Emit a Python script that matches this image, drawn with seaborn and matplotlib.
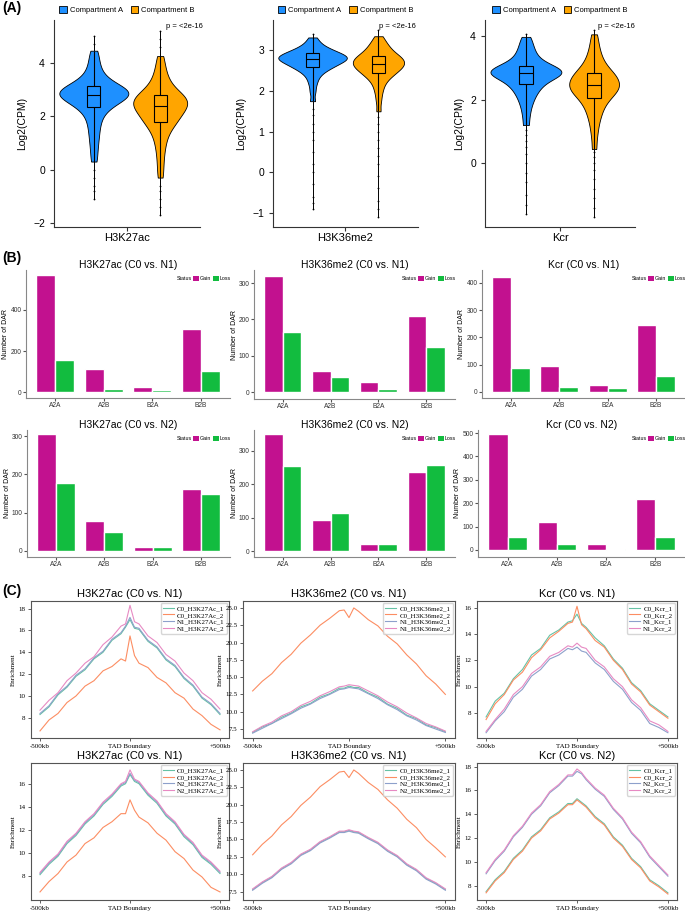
import numpy as np
import pandas as pd
import matplotlib
matplotlib.use("Agg")
import matplotlib.pyplot as plt
import seaborn as sns
from matplotlib.patches import Patch
from matplotlib.lines import Line2D

# ---------------- data: panel A (value samples read as quantiles + outlying points) ----------------
COMPARTMENTS = ["Compartment A", "Compartment B"]
MARKS_A = ["H3K27ac", "H3K36me2", "Kcr"]

H3K27AC_A = [0.3, 0.65, 0.95, 1.2, 1.42, 1.62, 1.8, 1.95, 2.08, 2.19, 2.28, 2.35,
             2.41, 2.46, 2.51, 2.56, 2.6, 2.64, 2.68, 2.71, 2.74, 2.77, 2.79, 2.81, 2.84, 2.87,
             2.9, 2.93, 2.96, 2.99, 3.02, 3.05, 3.08, 3.12, 3.16, 3.21, 3.27, 3.34, 3.42, 3.52,
             3.64, 3.8, 3.98, 4.2, 4.45]
H3K27AC_A_OUT = [-1.1, -0.8, -0.6, -0.3, 0.0, 4.7, 5.0]
H3K27AC_B = [-0.3, 0.1, 0.45, 0.75, 0.98, 1.18, 1.34, 1.47, 1.58, 1.68, 1.76,
             1.8, 1.87, 1.94, 2.0, 2.06, 2.12, 2.17, 2.22, 2.27, 2.31, 2.35,
             2.39, 2.43, 2.47, 2.51, 2.55, 2.59, 2.63, 2.67, 2.71, 2.75, 2.79,
             2.84, 2.9, 2.97, 3.05, 3.14, 3.25, 3.38, 3.53, 3.72, 3.95, 4.25]
H3K27AC_B_OUT = [-1.7, -1.4, -1.1, -0.8, -0.6, 4.6, 4.9, 5.2]
H3K36ME2_A = [1.75, 1.98, 2.15, 2.27, 2.36, 2.43, 2.48, 2.52, 2.55, 2.58,
              2.61, 2.63, 2.65, 2.67, 2.69, 2.71, 2.73, 2.75, 2.76, 2.78,
              2.79, 2.8, 2.82, 2.83, 2.84, 2.86, 2.87, 2.88, 2.9, 2.92,
              2.94, 2.96, 2.98, 3.0, 3.03, 3.06, 3.1, 3.15, 3.22, 3.32]
H3K36ME2_A_OUT = [-0.9, -0.75, -0.6, -0.3, 0.0, 0.2, 0.5, 0.8, 1.0, 1.2, 1.4, 1.55, 3.4]
H3K36ME2_B = [1.5, 1.75, 1.93, 2.06, 2.16, 2.24, 2.3, 2.35, 2.39, 2.42,
              2.45, 2.48, 2.51, 2.54, 2.56, 2.58, 2.6, 2.62, 2.64, 2.66,
              2.68, 2.7, 2.72, 2.74, 2.76, 2.78, 2.8, 2.82, 2.84, 2.86,
              2.89, 2.92, 2.95, 2.99, 3.03, 3.07, 3.12, 3.18, 3.25, 3.35]
H3K36ME2_B_OUT = [-1.1, -0.9, -0.7, -0.4, -0.1, 0.2, 0.4, 0.6, 0.8, 1.0, 1.2, 1.35, 3.5]
KCR_A = [1.2, 1.5, 1.73, 1.9, 2.03, 2.14, 2.23, 2.31, 2.38, 2.44,
         2.5, 2.55, 2.6, 2.64, 2.68, 2.71, 2.74, 2.77, 2.8, 2.82,
         2.84, 2.86, 2.88, 2.9, 2.92, 2.94, 2.97, 3.0, 3.03, 3.06,
         3.1, 3.15, 3.2, 3.27, 3.35, 3.44, 3.54, 3.66, 3.8, 3.97]
KCR_A_OUT = [-1.6, -1.3, -1.0, -0.6, -0.3, 0.0, 0.3, 0.5, 0.7, 0.9, 1.05, 4.05]
KCR_B = [0.45, 0.85, 1.13, 1.34, 1.5, 1.63, 1.74, 1.84, 1.93, 2.0,
         2.06, 2.12, 2.17, 2.22, 2.26, 2.3, 2.34, 2.37, 2.4, 2.43,
         2.47, 2.51, 2.55, 2.59, 2.63, 2.67, 2.71, 2.75, 2.79, 2.83,
         2.88, 2.94, 3.01, 3.09, 3.18, 3.29, 3.42, 3.58, 3.78, 4.05]
KCR_B_OUT = [-1.7, -1.4, -1.1, -0.8, -0.5, -0.2, 0.0, 0.2, 0.35, 4.2]
P_TEXT = "p = <2e-16"

# ---------------- data: panel B ----------------
CATS = ["A2A", "A2B", "B2A", "B2B"]
STATUS = ["Gain", "Loss"]
B_TITLES = ["H3K27ac (C0 vs. N1)", "H3K36me2 (C0 vs. N1)", "Kcr (C0 vs. N1)",
            "H3K27ac (C0 vs. N2)", "H3K36me2 (C0 vs. N2)", "Kcr (C0 vs. N2)"]
GAIN_H3K27AC_N1 = [571, 112, 24, 307]
LOSS_H3K27AC_N1 = [156, 15, 10, 102]
GAIN_H3K36ME2_N1 = [320, 58, 28, 209]
LOSS_H3K36ME2_N1 = [165, 41, 8, 124]
GAIN_KCR_N1 = [422, 95, 25, 244]
LOSS_KCR_N1 = [87, 18, 13, 58]
GAIN_H3K27AC_N2 = [305, 78, 10, 162]
LOSS_H3K27AC_N2 = [177, 50, 11, 149]
GAIN_H3K36ME2_N2 = [351, 93, 21, 237]
LOSS_H3K36ME2_N2 = [255, 114, 22, 258]
GAIN_KCR_N2 = [496, 118, 26, 218]
LOSS_KCR_N2 = [56, 26, 5, 57]

# ---------------- data: panel C ----------------
X_KB = [-500, -450, -400, -350, -300, -250, -200, -150, -100, -50, -25, 0, 25, 50,
        100, 150, 200, 250, 300, 350, 400, 450, 500]
XTICK_LABELS_C = ["-500kb", "TAD Boundary", "+500kb"]
C_TITLES = ["H3K27ac (C0 vs. N1)", "H3K36me2 (C0 vs. N1)", "Kcr (C0 vs. N1)",
            "H3K27ac (C0 vs. N1)", "H3K36me2 (C0 vs. N1)", "Kcr (C0 vs. N2)"]
C_NAMES = [["C0_H3K27Ac_1", "C0_H3K27Ac_2", "N1_H3K27Ac_1", "N1_H3K27Ac_2"],
           ["C0_H3K36me2_1", "C0_H3K36me2_2", "N1_H3K36me2_1", "N1_H3K36me2_2"],
           ["C0_Kcr_1", "C0_Kcr_2", "N1_Kcr_1", "N1_Kcr_2"],
           ["C0_H3K27Ac_1", "C0_H3K27Ac_2", "N2_H3K27Ac_1", "N2_H3K27Ac_2"],
           ["C0_H3K36me2_1", "C0_H3K36me2_2", "N2_H3K36me2_1", "N2_H3K36me2_2"],
           ["C0_Kcr_1", "C0_Kcr_2", "N2_Kcr_1", "N2_Kcr_2"]]

C1_S1 = [8.3, 9.0, 10.1, 10.8, 11.8, 12.4, 13.4, 14.0, 15.1, 15.7, 16.3, 17.0, 16.2, 16.1, 15.0, 14.4, 13.3, 12.7, 11.6, 10.9, 9.8, 9.2, 8.3]
C1_S2 = [6.8, 7.8, 8.4, 9.4, 10.0, 10.9, 11.4, 12.3, 12.7, 13.4, 13.2, 15.5, 13.7, 13.0, 12.6, 11.7, 11.2, 10.3, 9.8, 8.8, 8.2, 7.4, 6.9]
C1_S3 = [8.4, 9.1, 10.2, 10.9, 11.9, 12.5, 13.5, 14.1, 15.2, 15.8, 16.4, 17.2, 16.3, 16.2, 15.1, 14.5, 13.4, 12.8, 11.7, 11.0, 9.9, 9.3, 8.4]
C1_S4 = [8.7, 9.6, 10.3, 11.4, 12.1, 13.0, 13.6, 14.7, 15.4, 16.4, 16.6, 18.3, 16.8, 16.6, 15.5, 14.9, 13.8, 13.2, 12.1, 11.4, 10.3, 9.7, 8.8]

C2_S1 = [7.0, 7.8, 8.3, 9.2, 9.8, 10.7, 11.2, 12.1, 12.6, 13.4, 13.4, 13.7, 13.5, 13.5, 12.7, 12.1, 11.1, 10.5, 9.5, 9.0, 8.1, 7.7, 7.1]
C2_S2 = [13.0, 14.4, 15.5, 17.1, 18.3, 19.9, 21.1, 22.5, 23.5, 24.6, 24.7, 23.6, 25.0, 24.5, 23.3, 22.4, 20.9, 19.8, 18.2, 16.9, 15.2, 14.0, 12.5]
C2_S3 = [6.9, 7.6, 8.3, 9.0, 9.7, 10.5, 11.1, 11.9, 12.5, 13.2, 13.3, 13.5, 13.4, 13.3, 12.6, 11.9, 11.0, 10.3, 9.4, 8.8, 8.0, 7.5, 7.0]
C2_S4 = [7.1, 7.9, 8.5, 9.4, 10.0, 10.9, 11.5, 12.3, 12.9, 13.6, 13.7, 13.9, 13.8, 13.7, 13.0, 12.3, 11.4, 10.7, 9.8, 9.1, 8.3, 7.8, 7.2]

C3_S1 = [7.7, 8.9, 9.5, 10.6, 11.3, 12.4, 12.9, 13.9, 14.3, 14.9, 15.0, 15.5, 14.8, 14.5, 13.7, 13.1, 12.1, 11.4, 10.3, 9.7, 8.7, 8.2, 7.7]
C3_S2 = [7.5, 8.7, 9.4, 10.5, 11.1, 12.2, 12.8, 13.7, 14.2, 14.8, 14.9, 16.1, 14.7, 14.4, 13.5, 13.0, 12.0, 11.3, 10.2, 9.6, 8.6, 8.1, 7.6]
C3_S3 = [6.5, 7.4, 8.1, 9.2, 9.8, 10.8, 11.3, 12.1, 12.4, 12.9, 12.8, 13.0, 12.7, 12.6, 11.8, 11.3, 10.4, 9.8, 8.8, 8.2, 7.2, 6.9, 6.5]
C3_S4 = [6.6, 7.5, 8.3, 9.4, 10.0, 11.0, 11.5, 12.3, 12.6, 13.1, 13.0, 13.3, 13.0, 12.9, 12.0, 11.5, 10.6, 10.0, 9.0, 8.4, 7.4, 7.1, 6.6]

C4_S1 = [8.1, 9.0, 9.7, 10.8, 11.5, 12.5, 13.2, 14.2, 14.9, 15.8, 16.0, 16.8, 16.2, 16.0, 15.0, 14.3, 13.2, 12.5, 11.4, 10.7, 9.6, 9.0, 8.2]
C4_S2 = [6.6, 7.5, 8.2, 9.2, 9.8, 10.8, 11.3, 12.2, 12.7, 13.4, 13.4, 14.6, 13.7, 13.1, 12.6, 11.7, 11.1, 10.1, 9.5, 8.5, 7.9, 7.0, 6.6]
C4_S3 = [8.2, 9.1, 9.8, 10.9, 11.6, 12.6, 13.3, 14.3, 15.0, 15.9, 16.1, 16.9, 16.3, 16.1, 15.1, 14.4, 13.3, 12.6, 11.5, 10.8, 9.7, 9.1, 8.3]
C4_S4 = [8.3, 9.2, 9.9, 11.0, 11.7, 12.7, 13.4, 14.4, 15.1, 16.0, 16.2, 17.2, 16.4, 16.2, 15.2, 14.5, 13.4, 12.7, 11.6, 10.9, 9.8, 9.2, 8.4]

C5_S1 = [7.8, 8.8, 9.6, 10.8, 11.6, 12.8, 13.5, 14.6, 15.3, 16.1, 16.1, 16.3, 16.1, 16.0, 15.2, 14.5, 13.4, 12.6, 11.4, 10.6, 9.4, 8.7, 7.8]
C5_S2 = [12.8, 14.3, 15.5, 17.1, 18.3, 19.9, 21.1, 22.6, 23.6, 24.7, 24.8, 23.9, 25.0, 24.5, 23.2, 22.2, 20.7, 19.5, 17.9, 16.7, 15.0, 13.8, 12.5]
C5_S3 = [7.7, 8.7, 9.5, 10.7, 11.5, 12.7, 13.4, 14.5, 15.2, 16.0, 16.0, 16.2, 16.0, 15.9, 15.1, 14.4, 13.3, 12.5, 11.3, 10.5, 9.3, 8.6, 7.7]
C5_S4 = [7.9, 8.9, 9.7, 10.9, 11.7, 12.9, 13.6, 14.7, 15.4, 16.2, 16.2, 16.4, 16.2, 16.1, 15.3, 14.6, 13.5, 12.7, 11.5, 10.7, 9.5, 8.8, 7.9]

C6_S1 = [7.5, 8.5, 9.2, 10.3, 11.0, 12.1, 12.7, 13.7, 14.2, 14.9, 14.9, 15.3, 15.0, 14.7, 13.8, 13.2, 12.1, 11.4, 10.3, 9.6, 8.5, 8.0, 7.4]
C6_S2 = [7.4, 8.4, 9.1, 10.2, 10.9, 12.0, 12.6, 13.6, 14.1, 14.8, 14.8, 15.2, 14.9, 14.6, 13.7, 13.1, 12.0, 11.3, 10.2, 9.5, 8.4, 7.9, 7.3]
C6_S3 = [9.0, 10.1, 10.9, 12.1, 12.9, 14.0, 14.7, 15.8, 16.4, 17.2, 17.2, 17.6, 17.4, 16.9, 16.1, 15.5, 14.4, 13.6, 12.4, 11.6, 10.4, 9.6, 8.8]
C6_S4 = [9.1, 10.2, 11.0, 12.2, 13.0, 14.1, 14.8, 15.9, 16.5, 17.3, 17.3, 17.8, 17.5, 17.0, 16.2, 15.6, 14.5, 13.7, 12.5, 11.7, 10.5, 9.7, 8.9]

# ---------------- figure ----------------
W, H = 685, 919
fig = plt.figure(figsize=(W / 100, H / 100), dpi=100)
plt.rcParams['font.family'] = ['Liberation Sans', 'DejaVu Sans']
SERIF = ['Liberation Serif', 'DejaVu Serif']


def px_axes(l, t, r, b):
    return fig.add_axes([l / W, 1 - b / H, (r - l) / W, (b - t) / H])


PAL_A = {"Compartment A": "#1E90FF", "Compartment B": "#FFA500"}
AX_COLOR = "#333333"

# ---- Panel A ----
A_RECTS = [(54, 20, 200, 227), (273, 20, 418, 227), (485, 20, 635, 227)]
A_YLIMS = [(-2.15, 5.6), (-1.35, 3.75), (-2.0, 4.5)]
A_YTICKS = [[-2, 0, 2, 4], [-1, 0, 1, 2, 3], [0, 2, 4]]
A_VALUES = [(H3K27AC_A, H3K27AC_B, H3K27AC_A_OUT, H3K27AC_B_OUT),
            (H3K36ME2_A, H3K36ME2_B, H3K36ME2_A_OUT, H3K36ME2_B_OUT),
            (KCR_A, KCR_B, KCR_A_OUT, KCR_B_OUT)]
A_PX = [0.77, 0.73, 0.75]

for i in range(3):
    ax = px_axes(*A_RECTS[i])
    va, vb, oa, ob = A_VALUES[i]
    df = pd.DataFrame({"comp": [COMPARTMENTS[0]] * len(va) + [COMPARTMENTS[1]] * len(vb),
                       "value": va + vb})
    dfo = pd.DataFrame({"comp": [COMPARTMENTS[0]] * len(oa) + [COMPARTMENTS[1]] * len(ob),
                        "value": oa + ob})
    # whisker line through full range (core + outlying points)
    full_min = [min(va + oa), min(vb + ob)]
    full_max = [max(va + oa), max(vb + ob)]
    ax.vlines([0, 1], full_min, full_max, color="black", linewidth=0.7, zorder=0.5)
    sns.violinplot(data=df, x="comp", y="value", hue="comp", order=COMPARTMENTS,
                   hue_order=COMPARTMENTS, palette=PAL_A, cut=0, inner=None, width=1.04,
                   bw_adjust=0.6, gridsize=300, common_norm=True, linewidth=0.6,
                   linecolor="black", saturation=1, legend=False, ax=ax)
    sns.boxplot(data=df, x="comp", y="value", hue="comp", order=COMPARTMENTS,
                hue_order=COMPARTMENTS, palette=PAL_A, width=0.2, whis=(0, 100),
                showfliers=False, showcaps=False, linewidth=0.8, linecolor="black",
                saturation=1, legend=False, ax=ax)
    sns.stripplot(data=dfo, x="comp", y="value", order=COMPARTMENTS, color="black",
                  size=1.3, jitter=False, ax=ax)
    ax.set_xlim(-0.6, 1.6)
    ax.set_ylim(*A_YLIMS[i])
    ax.set_yticks(A_YTICKS[i])
    ax.set_xticks([0.5])
    ax.set_xticklabels([MARKS_A[i]], fontsize=8)
    ax.set_xlabel("")
    ax.set_ylabel("Log2(CPM)", fontsize=7.5)
    ax.tick_params(axis='y', labelsize=7.5, length=3, color=AX_COLOR)
    ax.tick_params(axis='x', length=3, color=AX_COLOR, pad=1)
    for s in ["top", "right"]:
        ax.spines[s].set_visible(False)
    for s in ["left", "bottom"]:
        ax.spines[s].set_color(AX_COLOR)
        ax.spines[s].set_linewidth(0.8)
    ax.text(A_PX[i], 0.985, P_TEXT, transform=ax.transAxes, fontsize=5.5, va="top", ha="left")
    handles = [Patch(facecolor=PAL_A[c], edgecolor="black", linewidth=0.6) for c in COMPARTMENTS]
    ax.legend(handles, COMPARTMENTS, loc="lower center", bbox_to_anchor=(0.5, 1.005), ncol=2,
              frameon=False, fontsize=5.5, handlelength=1.0, handleheight=1.0,
              columnspacing=1.0, handletextpad=0.4, borderpad=0.1)

# ---- Panel B ----
B_RECTS = [(26, 270, 230, 398), (254, 270, 455, 399), (482, 270, 685, 398),
           (27, 430, 230, 557), (254, 430, 455, 557), (478, 430, 685, 557)]
B_YLIMS = [(-29, 595), (-19, 336), (-22, 447), (-16, 316), (-18, 363), (-30, 513)]
B_YTICKS = [[0, 200, 400], [0, 100, 200, 300], [0, 100, 200, 300, 400],
            [0, 100, 200, 300], [0, 100, 200, 300], [0, 100, 200, 300, 400, 500]]
B_DATA = [(GAIN_H3K27AC_N1, LOSS_H3K27AC_N1), (GAIN_H3K36ME2_N1, LOSS_H3K36ME2_N1),
          (GAIN_KCR_N1, LOSS_KCR_N1), (GAIN_H3K27AC_N2, LOSS_H3K27AC_N2),
          (GAIN_H3K36ME2_N2, LOSS_H3K36ME2_N2), (GAIN_KCR_N2, LOSS_KCR_N2)]
PAL_B = {"Gain": "#C2118F", "Loss": "#12BC3F"}

for i in range(6):
    ax = px_axes(*B_RECTS[i])
    g, l = B_DATA[i]
    df = pd.DataFrame({"cat": CATS * 2, "n": g + l, "status": ["Gain"] * 4 + ["Loss"] * 4})
    sns.barplot(data=df, x="cat", y="n", hue="status", order=CATS, hue_order=STATUS,
                palette=PAL_B, width=0.78, edgecolor="white", linewidth=1.0, saturation=1,
                legend=False, ax=ax)
    ax.set_xlim(-0.6, 3.6)
    ax.set_ylim(*B_YLIMS[i])
    ax.set_yticks(B_YTICKS[i])
    ax.set_xlabel("")
    ax.set_ylabel("Number of DAR", fontsize=5, labelpad=1)
    ax.tick_params(axis='both', labelsize=4.8, length=2, color="#555555", labelcolor="#333333", pad=1)
    for s in ["top", "right"]:
        ax.spines[s].set_visible(False)
    for s in ["left", "bottom"]:
        ax.spines[s].set_color("#888888")
        ax.spines[s].set_linewidth(0.8)
    ax.set_title(B_TITLES[i], fontsize=7.5, pad=1)
    handles = [Patch(alpha=0), Patch(facecolor=PAL_B["Gain"]), Patch(facecolor=PAL_B["Loss"])]
    ax.legend(handles, ["Status", "Gain", "Loss"], loc="upper right", bbox_to_anchor=(1.02, 0.98),
              ncol=3, frameon=False, fontsize=3.8, handlelength=1.1, handleheight=1.1,
              handletextpad=0.2, columnspacing=0.3, borderpad=0.1)

# ---- Panel C ----
C_RECTS = [(31, 601, 229, 738), (243, 601, 455, 738), (477, 601, 677, 738),
           (31, 763, 229, 900), (243, 763, 455, 900), (477, 763, 677, 900)]
C_YLIMS = [(6.15, 18.7), (6.2, 26.0), (6.1, 16.5), (5.9, 17.8), (6.3, 26.0), (6.8, 18.3)]
C_YTICKS = [[8, 10, 12, 14, 16, 18], [7.5, 10.0, 12.5, 15.0, 17.5, 20.0, 22.5, 25.0],
            [8, 10, 12, 14, 16], [8, 10, 12, 14, 16], [7.5, 10.0, 12.5, 15.0, 17.5, 20.0, 22.5, 25.0],
            [8, 10, 12, 14, 16, 18]]
C_DATA = [(C1_S1, C1_S2, C1_S3, C1_S4), (C2_S1, C2_S2, C2_S3, C2_S4),
          (C3_S1, C3_S2, C3_S3, C3_S4), (C4_S1, C4_S2, C4_S3, C4_S4),
          (C5_S1, C5_S2, C5_S3, C5_S4), (C6_S1, C6_S2, C6_S3, C6_S4)]
SET2 = sns.color_palette("Set2", 4)

for i in range(6):
    ax = px_axes(*C_RECTS[i])
    names = C_NAMES[i]
    rows = []
    for name, series in zip(names, C_DATA[i]):
        for x, y in zip(X_KB, series):
            rows.append((x, y, name))
    df = pd.DataFrame(rows, columns=["pos", "enrich", "sample"])
    sns.lineplot(data=df, x="pos", y="enrich", hue="sample", hue_order=names,
                 palette=dict(zip(names, SET2)), linewidth=0.8, legend=False, ax=ax)
    ax.set_ylim(*C_YLIMS[i])
    ax.set_yticks(C_YTICKS[i])
    if i in (1, 4):
        ax.set_yticklabels([f"{v:.1f}" for v in C_YTICKS[i]])
    ax.set_xticks([-500, 0, 500])
    ax.set_xticklabels(XTICK_LABELS_C)
    for lab in ax.get_xticklabels() + ax.get_yticklabels():
        lab.set_fontfamily(SERIF)
        lab.set_fontsize(5)
    ax.tick_params(axis='both', length=2.5, width=0.6, pad=1.5, color="#444444")
    ax.set_xlabel("")
    ax.set_ylabel("Enrichment", fontsize=5, family=SERIF, labelpad=2)
    for s in ax.spines.values():
        s.set_color("#555555")
        s.set_linewidth(0.8)
    ax.set_title(C_TITLES[i], fontsize=8, pad=3)
    handles = [Line2D([], [], color=c, lw=0.8) for c in SET2]
    ax.legend(handles, names, loc="upper right", prop={"family": SERIF, "size": 5},
              frameon=True, edgecolor="#cccccc", fancybox=True, handlelength=1.6,
              borderpad=0.3, labelspacing=0.15, handletextpad=0.5, borderaxespad=0.3)

# panel labels
fig.text(2 / W, 1 - 8 / H, "(A)", fontsize=10, fontweight="bold", va="center", ha="left")
fig.text(2 / W, 1 - 258 / H, "(B)", fontsize=10, fontweight="bold", va="center", ha="left")
fig.text(2 / W, 1 - 591 / H, "(C)", fontsize=10, fontweight="bold", va="center", ha="left")

fig.savefig("out.png", dpi=100)
